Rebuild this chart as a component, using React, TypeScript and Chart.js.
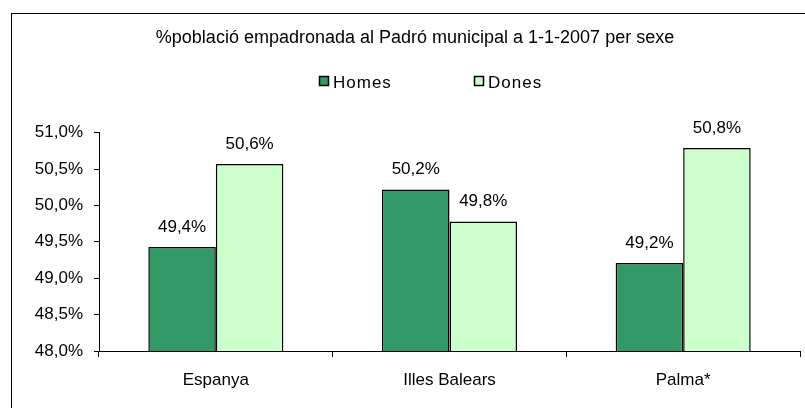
import { useEffect, useRef } from 'react';
import { Chart, registerables } from 'chart.js';

Chart.register(...registerables);

const categories = ['Espanya', 'Illes Balears', 'Palma*'];
const seriesNames = ['Homes', 'Dones'];
const homesValues = [49.43, 50.22, 49.21];
const donesValues = [50.57, 49.78, 50.79];
const yTicks = [48.0, 48.5, 49.0, 49.5, 50.0, 50.5, 51.0];
const titleText = '%població empadronada al Padró municipal a 1-1-2007 per sexe';

const seriesColors = ['#339966', '#CCFFCC'];
const FONT = '"Liberation Sans", Arial, Helvetica, sans-serif';
const fmt = (v: number) => v.toFixed(1).replace('.', ',') + '%';

const framePlugin = {
  id: 'frame',
  beforeDraw(chart: any) {
    const { ctx, width, height } = chart;
    ctx.save();
    ctx.fillStyle = '#ffffff';
    ctx.fillRect(0, 0, width, height);
    ctx.strokeStyle = '#000000';
    ctx.lineWidth = 1;
    ctx.strokeRect(11.5, 13.5, width + 50, height + 50);
    ctx.restore();
  },
};

const barLabelsPlugin = {
  id: 'barLabels',
  afterDatasetsDraw(chart: any) {
    const ctx = chart.ctx;
    ctx.save();
    ctx.font = `17px ${FONT}`;
    ctx.fillStyle = '#000000';
    ctx.textAlign = 'center';
    ctx.textBaseline = 'alphabetic';
    chart.data.datasets.forEach((ds: any, i: number) => {
      const meta = chart.getDatasetMeta(i);
      meta.data.forEach((bar: any, j: number) => {
        ctx.fillText(fmt(ds.data[j]), bar.x, bar.y - 15);
      });
    });
    ctx.restore();
  },
};

const legendBoxX = [319, 474];
const customLegendPlugin = {
  id: 'customLegend',
  afterDraw(chart: any) {
    const ctx = chart.ctx;
    ctx.save();
    ctx.font = `17px ${FONT}`;
    ctx.textAlign = 'left';
    ctx.textBaseline = 'alphabetic';
    try { (ctx as any).letterSpacing = '1px'; } catch (e) { /* ignore */ }
    chart.data.datasets.forEach((ds: any, i: number) => {
      const x = legendBoxX[i];
      ctx.fillStyle = ds.backgroundColor;
      ctx.fillRect(x + 0.5, 76.5, 9, 9);
      ctx.strokeStyle = '#000000';
      ctx.lineWidth = 1.5;
      ctx.strokeRect(x + 0.5, 76.5, 9, 9);
      ctx.fillStyle = '#000000';
      ctx.fillText(ds.label, x + 14, 87.5);
    });
    ctx.restore();
  },
};

export default function App() {
  const canvasRef = useRef<HTMLCanvasElement | null>(null);

  useEffect(() => {
    if (!canvasRef.current) return;
    const chart = new Chart(canvasRef.current, {
      type: 'bar',
      data: {
        labels: categories,
        datasets: [
          {
            label: seriesNames[0],
            data: homesValues,
            backgroundColor: seriesColors[0],
            borderColor: '#000000',
            borderWidth: 1.5,
            categoryPercentage: 0.578,
            barPercentage: 1.0,
            yAxisID: 'y',
          },
          {
            label: seriesNames[1],
            data: donesValues,
            backgroundColor: seriesColors[1],
            borderColor: '#000000',
            borderWidth: 1.5,
            categoryPercentage: 0.578,
            barPercentage: 1.0,
            yAxisID: 'y',
          },
        ],
      },
      options: {
        responsive: false,
        animation: false,
        devicePixelRatio: 1,
        layout: { padding: 0 },
        plugins: {
          legend: { display: false },
          tooltip: { enabled: false },
          title: {
            display: true,
            text: titleText,
            color: '#000000',
            font: { family: FONT, size: 18, weight: 'normal' },
            padding: { top: 27, bottom: 84 },
          },
        },
        scales: {
          x: {
            type: 'category',
            grid: {
              display: true,
              drawOnChartArea: false,
              drawTicks: true,
              tickLength: 6,
              color: '#000000',
              offset: true,
            },
            border: { display: true, color: '#000000', width: 1 },
            ticks: {
              color: '#000000',
              font: { family: FONT, size: 17 },
              padding: 13,
              maxRotation: 0,
            },
            afterFit: (s: any) => {
              s.height = 57;
            },
          },
          y: {
            type: 'linear',
            position: 'left',
            min: yTicks[0],
            max: yTicks[yTicks.length - 1],
            grid: {
              display: true,
              drawOnChartArea: false,
              drawTicks: true,
              tickLength: 5,
              color: '#000000',
            },
            border: { display: true, color: '#000000', width: 1 },
            ticks: {
              color: '#000000',
              font: { family: FONT, size: 17 },
              padding: 11,
              callback: (v: any) => fmt(Number(v)),
            },
            afterBuildTicks: (s: any) => {
              s.ticks = yTicks.map((v) => ({ value: v }));
            },
            afterFit: (s: any) => {
              s.width = 99;
            },
          },
          yRight: {
            type: 'linear',
            position: 'right',
            display: true,
            grid: { display: false },
            border: { display: false },
            ticks: { display: false },
            afterFit: (s: any) => {
              s.width = 30;
            },
          },
        },
      },
      plugins: [framePlugin, barLabelsPlugin, customLegendPlugin],
    } as any);
    return () => chart.destroy();
  }, []);

  return (
    <div
      style={{
        position: 'fixed',
        left: 0,
        top: 0,
        width: 805,
        height: 408,
        overflow: 'hidden',
        background: '#ffffff',
      }}
    >
      <canvas ref={canvasRef} width={830} height={408} style={{ display: 'block' }} />
    </div>
  );
}
